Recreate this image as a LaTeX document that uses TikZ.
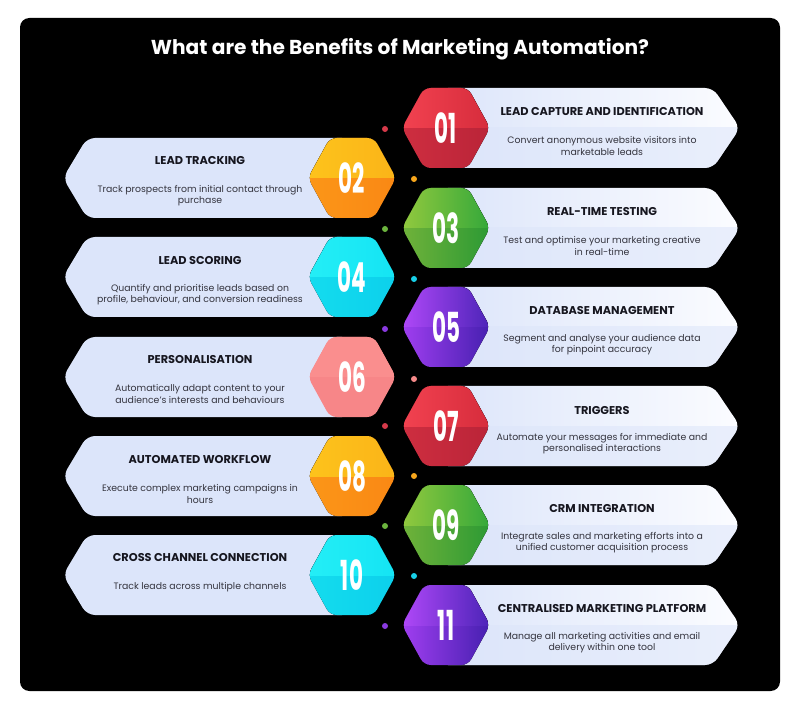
\documentclass[tikz,border=0pt]{standalone}
\usepackage{fontspec}
\setmainfont{Poppins}
\usepackage{graphicx}

\definecolor{panelink}{HTML}{000000}
\definecolor{titleink}{HTML}{16161F}
\definecolor{descink}{HTML}{34343E}
\definecolor{cardblue}{HTML}{DCE5FA}
\definecolor{cardwhite}{HTML}{FBFCFF}
% badge colours
\definecolor{redA}{HTML}{F24250}
\definecolor{redB}{HTML}{D62C3C}
\definecolor{redC}{HTML}{CE2E40}
\definecolor{redD}{HTML}{BA2438}
\definecolor{amberA}{HTML}{FDC31C}
\definecolor{amberB}{HTML}{FBB418}
\definecolor{amberC}{HTML}{FB9618}
\definecolor{amberD}{HTML}{FA8814}
\definecolor{greenA}{HTML}{92C93E}
\definecolor{greenB}{HTML}{34A83A}
\definecolor{greenC}{HTML}{70B23A}
\definecolor{greenD}{HTML}{2C9A34}
\definecolor{cyanA}{HTML}{24EEF6}
\definecolor{cyanB}{HTML}{14E4F4}
\definecolor{cyanC}{HTML}{14DCEE}
\definecolor{cyanD}{HTML}{0CD0EC}
\definecolor{violetA}{HTML}{B048F8}
\definecolor{violetB}{HTML}{4C24B8}
\definecolor{violetC}{HTML}{A03EF0}
\definecolor{violetD}{HTML}{4620B0}
\definecolor{pinkA}{HTML}{FA8E8E}
\definecolor{pinkB}{HTML}{F78688}
% dot colours
\definecolor{reddot}{HTML}{D63A4A}
\definecolor{amberdot}{HTML}{F7A61C}
\definecolor{greendot}{HTML}{6CB43E}
\definecolor{cyandot}{HTML}{18D0E8}
\definecolor{violetdot}{HTML}{8A3AE0}
\definecolor{pinkdot}{HTML}{F58A8A}

\tikzset{
  heading/.style={text=white, font=\fontsize{15.1}{17}\selectfont\bfseries},
  cardtitle/.style={text=titleink, font=\fontsize{8.5}{10}\selectfont\bfseries},
  carddesc/.style={text=descink, align=center, font=\fontsize{7}{8.3}\selectfont},
  hexnum/.style={text=white, font=\fontsize{31}{31}\selectfont\bfseries},
  rcard/.style={left color=cardblue, right color=cardwhite},
  lcard/.style={fill=cardblue},
  % hexagon colours, top half and bottom half
  redtop/.style={left color=redA, right color=redB},
  redbot/.style={left color=redC, right color=redD},
  ambertop/.style={left color=amberA, right color=amberB},
  amberbot/.style={left color=amberC, right color=amberD},
  greentop/.style={left color=greenA, right color=greenB},
  greenbot/.style={left color=greenC, right color=greenD},
  cyantop/.style={left color=cyanA, right color=cyanB},
  cyanbot/.style={left color=cyanC, right color=cyanD},
  violettop/.style={left color=violetA, right color=violetB},
  violetbot/.style={left color=violetC, right color=violetD},
  pinktop/.style={fill=pinkA},
  pinkbot/.style={fill=pinkB},
}

% hexagon badge: centre x, centre y, colour family
\newcommand{\hexcell}[3]{%
  \fill[#3bot, rounded corners=5pt] (#1-44,#2) -- (#1-22,#2-40) -- (#1+22,#2-40) -- (#1+44,#2) -- (#1+22,#2+40) -- (#1-22,#2+40) -- cycle;
  \begin{scope}
    \clip (#1-50,#2-45) rectangle (#1+50,#2);
    \fill[#3top, rounded corners=5pt] (#1-44,#2) -- (#1-22,#2-40) -- (#1+22,#2-40) -- (#1+44,#2) -- (#1+22,#2+40) -- (#1-22,#2+40) -- cycle;
  \end{scope}}
% cards: centre y
\newcommand{\rightcard}[1]{%
  \fill[rcard, rounded corners=6pt] (440,#1-40) -- (713,#1-40) -- (740,#1) -- (713,#1+40) -- (440,#1+40) -- cycle;
  \begin{scope}
    \clip (430,#1) rectangle (750,#1+45);
    \fill[cardblue, opacity=0.55, rounded corners=6pt] (440,#1-40) -- (713,#1-40) -- (740,#1) -- (713,#1+40) -- (440,#1+40) -- cycle;
  \end{scope}}
\newcommand{\leftcard}[1]{%
  \fill[lcard, rounded corners=6pt] (63,#1) -- (87,#1-40) -- (350,#1-40) -- (350,#1+40) -- (87,#1+40) -- cycle;}

\begin{document}
\begin{tikzpicture}[x=0.75pt, y=-0.75pt]
  \useasboundingbox (0,0) rectangle (800,709);
  \fill[white] (0,0) rectangle (800,709);
  \fill[panelink, rounded corners=7pt] (20,18) rectangle (780,691);

  \node[heading] (heading) at (400,49) {What are the Benefits of Marketing Automation?};

  % dots
  \fill[reddot] (385,129) circle (3);
  \fill[amberdot] (414,179) circle (3);
  \fill[greendot] (385,229) circle (3);
  \fill[cyandot] (414,279) circle (3);
  \fill[violetdot] (385,329) circle (3);
  \fill[pinkdot] (414,379) circle (3);
  \fill[reddot] (385,426) circle (3);
  \fill[amberdot] (414,476) circle (3);
  \fill[greendot] (385,526) circle (3);
  \fill[cyandot] (414,576) circle (3);
  \fill[violetdot] (385,626) circle (3);

  % cards
  \rightcard{128}
  \leftcard{178}
  \rightcard{228}
  \leftcard{277}
  \rightcard{327}
  \leftcard{377}
  \rightcard{426}
  \leftcard{476}
  \rightcard{525}
  \leftcard{575}
  \rightcard{625}

  % badges
  \hexcell{446}{128}{red}
  \hexcell{352}{178}{amber}
  \hexcell{446}{228}{green}
  \hexcell{352}{277}{cyan}
  \hexcell{446}{327}{violet}
  \hexcell{352}{377}{pink}
  \hexcell{446}{426}{red}
  \hexcell{352}{476}{amber}
  \hexcell{446}{525}{green}
  \hexcell{352}{575}{cyan}
  \hexcell{446}{625}{violet}

  \node[hexnum] (n01) at (446,128) {\scalebox{0.52}[1]{01}};
  \node[hexnum] (n02) at (352,178) {\scalebox{0.52}[1]{02}};
  \node[hexnum] (n03) at (446,228) {\scalebox{0.52}[1]{03}};
  \node[hexnum] (n04) at (352,277) {\scalebox{0.52}[1]{04}};
  \node[hexnum] (n05) at (446,327) {\scalebox{0.52}[1]{05}};
  \node[hexnum] (n06) at (352,377) {\scalebox{0.52}[1]{06}};
  \node[hexnum] (n07) at (446,426) {\scalebox{0.52}[1]{07}};
  \node[hexnum] (n08) at (352,476) {\scalebox{0.52}[1]{08}};
  \node[hexnum] (n09) at (446,525) {\scalebox{0.52}[1]{09}};
  \node[hexnum] (n10) at (352,575) {\scalebox{0.52}[1]{10}};
  \node[hexnum] (n11) at (446,625) {\scalebox{0.52}[1]{11}};

  % texts
  \node[cardtitle] (t01) at (602,112) {LEAD CAPTURE AND IDENTIFICATION};
  \node[carddesc] (d01) at (602,146) {Convert anonymous website visitors into\\marketable leads};
  \node[cardtitle] (t02) at (200,161) {LEAD TRACKING};
  \node[carddesc] (d02) at (200,196) {Track prospects from initial contact through\\purchase};
  \node[cardtitle] (t03) at (602,212) {REAL-TIME TESTING};
  \node[carddesc] (d03) at (602,246) {Test and optimise your marketing creative\\in real-time};
  \node[cardtitle] (t04) at (200,261) {LEAD SCORING};
  \node[carddesc] (d04) at (200,295) {Quantify and prioritise leads based on\\profile, behaviour, and conversion readiness};
  \node[cardtitle] (t05) at (602,311) {DATABASE MANAGEMENT};
  \node[carddesc] (d05) at (602,345) {Segment and analyse your audience data\\for pinpoint accuracy};
  \node[cardtitle] (t06) at (200,360) {PERSONALISATION};
  \node[carddesc] (d06) at (200,394) {Automatically adapt content to your\\audience's interests and behaviours};
  \node[cardtitle] (t07) at (602,411) {TRIGGERS};
  \node[carddesc] (d07) at (602,444) {Automate your messages for immediate and\\personalised interactions};
  \node[cardtitle] (t08) at (200,460) {AUTOMATED WORKFLOW};
  \node[carddesc] (d08) at (200,494) {Execute complex marketing campaigns in\\hours};
  \node[cardtitle] (t09) at (602,509) {CRM INTEGRATION};
  \node[carddesc] (d09) at (602,543) {Integrate sales and marketing efforts into a\\unified customer acquisition process};
  \node[cardtitle] (t10) at (200,558) {CROSS CHANNEL CONNECTION};
  \node[carddesc] (d10) at (200,587) {Track leads across multiple channels};
  \node[cardtitle] (t11) at (602,609) {CENTRALISED MARKETING PLATFORM};
  \node[carddesc] (d11) at (602,643) {Manage all marketing activities and email\\delivery within one tool};
\end{tikzpicture}
\end{document}
